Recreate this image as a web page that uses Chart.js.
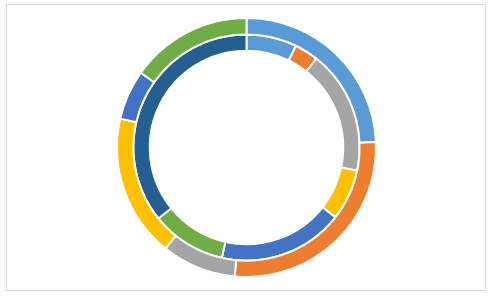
<!DOCTYPE html>
<html>
<head>
<meta charset="utf-8">
<script src="https://cdn.jsdelivr.net/npm/chart.js@4"></script>
<style>
  html, body { margin: 0; padding: 0; background: #fff; }
  .wrap { position: relative; width: 493px; height: 300px; }
  .frame { position: absolute; left: 6px; top: 4px; width: 480px; height: 287px; border: 1px solid #d9d9d9; box-sizing: border-box; }
  canvas { position: absolute; left: 0; top: 0; }
</style>
</head>
<body>
<div class="wrap">
  <div class="frame"></div>
  <canvas id="chart" width="493" height="300"></canvas>
</div>
<script>
const outerLabels = ['A', 'B', 'C', 'D', 'E', 'F'];
const outerValues = [24.3, 27.1, 9.3, 17.8, 6.2, 15.2];
const outerColors = ['#5b9bd5', '#ed7d31', '#a5a5a5', '#ffc000', '#4472c4', '#70ad47'];

const innerLabels = ['A', 'B', 'C', 'D', 'E', 'F', 'G'];
const innerValues = [7.2, 3.4, 17.7, 7.3, 17.9, 10.7, 35.8];
const innerColors = ['#5b9bd5', '#ed7d31', '#a5a5a5', '#ffc000', '#4472c4', '#70ad47', '#255e91'];

const ctx = document.getElementById('chart').getContext('2d');
new Chart(ctx, {
  type: 'doughnut',
  data: {
    labels: innerLabels,
    datasets: [
      { data: outerValues, backgroundColor: outerColors, borderColor: '#fff', borderWidth: 2 },
      { data: innerValues, backgroundColor: innerColors, borderColor: '#fff', borderWidth: 2 }
    ]
  },
  options: {
    responsive: false,
    animation: false,
    cutout: '74.7%',
    layout: { padding: { top: 17, bottom: 22 } },
    plugins: {
      legend: { display: false },
      tooltip: { enabled: false }
    }
  }
});
</script>
</body>
</html>
